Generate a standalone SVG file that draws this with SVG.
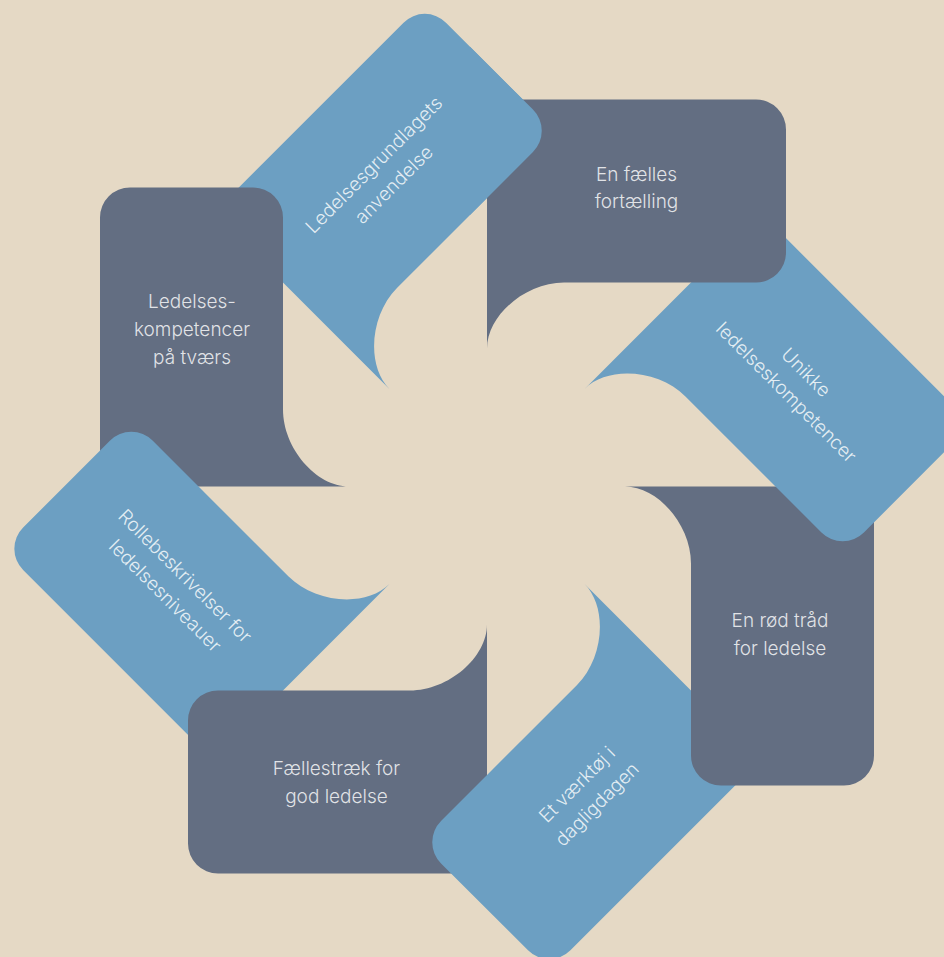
<svg xmlns="http://www.w3.org/2000/svg" xmlns:xlink="http://www.w3.org/1999/xlink" width="944" height="957" viewBox="0 0 944 957">
  <style>
    .dark { fill: #636e82; }
    .blue { fill: #6c9fc2; }
    .lbl { font-family: "Inter", "Roboto", "Liberation Sans", sans-serif; font-weight: 300; font-size: 19px; fill: #ffffff; fill-opacity: 0.82; text-anchor: middle; }
  </style>
  <defs>
    <path id="petal" d="M0,-138 L0,-357 A30,30 0 0 1 30,-387 L269,-387 A30,30 0 0 1 299,-357 L299,-234 A30,30 0 0 1 269,-204 L77,-204 C38.5,-204 0,-171 0,-138 Z"/>
    <clipPath id="overlapClip"><rect x="470" y="0" width="130" height="260"/></clipPath>
  </defs>
  <rect width="944" height="957" fill="#e5d9c5"/>
  <g id="connectors"/>

  <g id="node-ledelsesgrundlagets-anvendelse">
    <use xlink:href="#petal" href="#petal" class="blue" transform="translate(487,486.5) rotate(-45)"/>
    <text class="lbl" transform="translate(388.5,179.3) rotate(-45)"><tspan x="0" y="-14">Ledelsesgrundlagets</tspan><tspan x="0" y="14">anvendelse</tspan></text>
  </g>

  <g id="node-ledelseskompetencer-paa-tvaers">
    <use xlink:href="#petal" href="#petal" class="dark" transform="translate(487,486.5) rotate(270)"/>
    <text class="lbl"><tspan x="192" y="308.3">Ledelses-</tspan><tspan x="192" y="336">kompetencer</tspan><tspan x="192" y="363.5">på tværs</tspan></text>
  </g>

  <g id="node-rollebeskrivelser">
    <use xlink:href="#petal" href="#petal" class="blue" transform="translate(487,486.5) rotate(225)"/>
    <text class="lbl" transform="translate(170.5,590.5) rotate(45)"><tspan x="0" y="-14">Rollebeskrivelser for</tspan><tspan x="0" y="14">ledelsesniveauer</tspan></text>
  </g>

  <g id="node-faellestraek">
    <use xlink:href="#petal" href="#petal" class="dark" transform="translate(487,486.5) rotate(180)"/>
    <text class="lbl"><tspan x="336.5" y="775">Fællestræk for</tspan><tspan x="336.5" y="802.7">god ledelse</tspan></text>
  </g>

  <g id="node-et-vaerktoej">
    <use xlink:href="#petal" href="#petal" class="blue" transform="translate(487,486.5) rotate(135)"/>
    <text class="lbl" transform="translate(591.6,799) rotate(-45)"><tspan x="0" y="-14">Et værktøj i</tspan><tspan x="0" y="14">dagligdagen</tspan></text>
  </g>

  <g id="node-en-roed-traad">
    <use xlink:href="#petal" href="#petal" class="dark" transform="translate(487,486.5) rotate(90)"/>
    <text class="lbl"><tspan x="780" y="626.7">En rød tråd</tspan><tspan x="780" y="655">for ledelse</tspan></text>
  </g>

  <g id="node-unikke-ledelseskompetencer">
    <use xlink:href="#petal" href="#petal" class="blue" transform="translate(487,486.5) rotate(45)"/>
    <text class="lbl" transform="translate(791.5,387) rotate(45)"><tspan x="0" y="-14">Unikke</tspan><tspan x="0" y="14">ledelseskompetencer</tspan></text>
  </g>

  <g id="node-en-faelles-fortaelling">
    <use xlink:href="#petal" href="#petal" class="dark" transform="translate(487,486.5)"/>
    <text class="lbl"><tspan x="636.5" y="180.7">En fælles</tspan><tspan x="636.5" y="208.3">fortælling</tspan></text>
  </g>

  <g id="overlap-fix" clip-path="url(#overlapClip)">
    <use xlink:href="#petal" href="#petal" class="blue" transform="translate(487,486.5) rotate(-45)"/>
  </g>
</svg>
